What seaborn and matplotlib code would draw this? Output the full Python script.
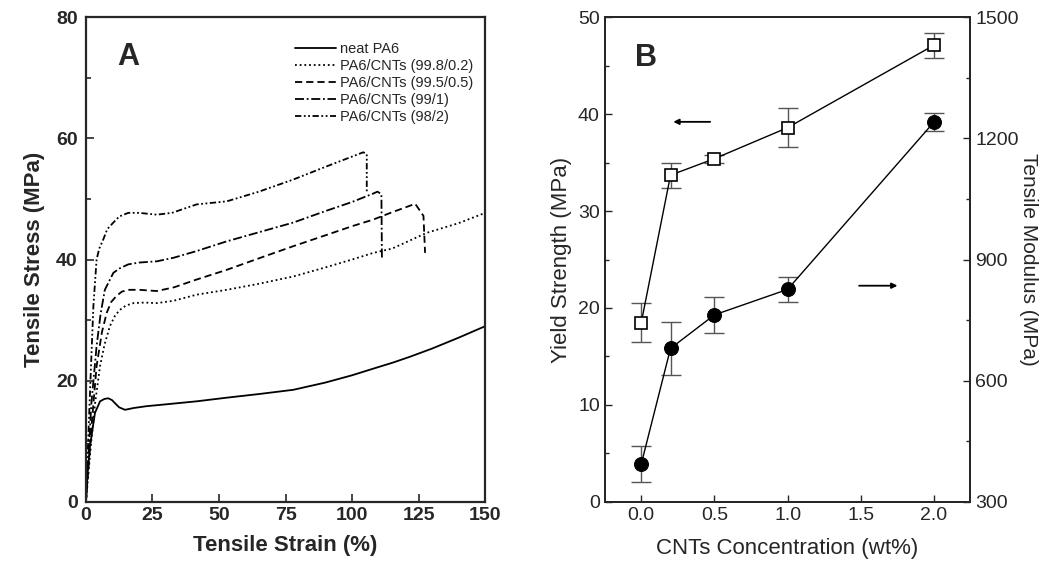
import numpy as np
import pandas as pd
import seaborn as sns
import matplotlib.pyplot as plt
from matplotlib.ticker import MultipleLocator

# Panel A: stress-strain curves
neat_x = [0, 0.5, 1.5, 3.4, 5.3, 7, 8.4, 9.8, 10.9, 12.5, 14.7, 18, 22.8, 30, 41.6, 52.9, 65, 77.9, 90, 100, 108, 115.4, 122, 130, 140, 150]
neat_y = [0, 4, 9.1, 14.7, 16.6, 17.0, 17.1, 16.8, 16.3, 15.6, 15.2, 15.5, 15.8, 16.1, 16.6, 17.2, 17.8, 18.5, 19.7, 20.9, 22.0, 23.0, 24.0, 25.3, 27.1, 29.0]

c02_x = [0, 1, 2, 3.5, 5.3, 7, 9, 11, 12.8, 15, 17.8, 22, 26.6, 33, 41.6, 52.9, 65, 77.9, 90, 100, 108, 115, 128, 140, 150]
c02_y = [0, 5, 10, 16.5, 22.4, 26, 29, 30.8, 31.7, 32.4, 32.8, 32.9, 32.8, 33.2, 34.2, 35.0, 36.0, 37.2, 38.7, 40.0, 41.1, 41.8, 44.4, 46.0, 47.7]

c05_x = [0, 1, 2, 4, 6, 7.8, 9.5, 11.5, 13.5, 15.9, 20, 26.6, 33, 41.6, 52.9, 65, 77.9, 90, 100, 108, 115, 120, 123.7, 126.8, 127.4]
c05_y = [0, 6, 12, 22.4, 28, 31.2, 33, 34, 34.7, 35, 35, 34.8, 35.4, 36.7, 38.3, 40.2, 42.2, 44.0, 45.5, 46.6, 47.8, 48.6, 49.2, 47.2, 41.1]

c1_x = [0, 1, 2, 4, 5.5, 7.1, 10.3, 12.5, 15.9, 20, 26.6, 33, 41.6, 52.9, 65, 77.9, 90, 100, 108, 109.5, 111, 111.2]
c1_y = [0, 8, 16, 25.7, 31, 35, 37.8, 38.5, 39.2, 39.5, 39.7, 40.3, 41.4, 43.0, 44.5, 46.1, 48.0, 49.5, 50.9, 51.2, 50.8, 40.0]

c2_x = [0, 1, 2.1, 2.8, 4, 5, 6.5, 8, 10.3, 12.5, 15.9, 20, 26.6, 32.3, 41.6, 52.9, 65, 77.9, 90, 104.2, 105.5, 105.5]
c2_y = [0, 12, 24.6, 32.3, 40, 41.8, 43.3, 45, 46.1, 47.1, 47.7, 47.7, 47.4, 47.7, 49.1, 49.6, 51.2, 53.2, 55.3, 57.7, 57.4, 51.0]

curve_labels = ["neat PA6", "PA6/CNTs (99.8/0.2)", "PA6/CNTs (99.5/0.5)",
                "PA6/CNTs (99/1)", "PA6/CNTs (98/2)"]

# Panel B: yield strength and modulus vs CNT content
conc = [0.0, 0.2, 0.5, 1.0, 2.0]
yield_strength = [18.5, 33.7, 35.4, 38.6, 47.1]
yield_err = [2.0, 1.3, 0.4, 2.0, 1.3]
modulus = [394, 680, 763, 826, 1240]
modulus_err = [45, 65, 45, 30, 22]

sns.set_theme(style="ticks")
plt.rcParams['font.family'] = ['Liberation Sans', 'DejaVu Sans']
plt.rcParams['xtick.direction'] = 'in'
plt.rcParams['ytick.direction'] = 'in'

fig = plt.figure(figsize=(10.48, 5.71), dpi=100)
axA = fig.add_axes([0.082, 0.121, 0.381, 0.849])
axB = fig.add_axes([0.577, 0.121, 0.349, 0.849])

styles = ['-', (0, (1, 1.6)), (0, (4, 2.2)), (0, (5, 1.5, 1, 1.5)), (0, (3.5, 1.4, 1, 1.4, 1, 1.4))]
curves = [(neat_x, neat_y), (c02_x, c02_y), (c05_x, c05_y), (c1_x, c1_y), (c2_x, c2_y)]
for (xs, ys), lab, ls in zip(curves, curve_labels, styles):
    sns.lineplot(x=xs, y=ys, sort=False, estimator=None, ax=axA, color='black',
                 linewidth=1.3, linestyle=ls, label=lab)

axA.set_xlim(0, 150)
axA.set_ylim(0, 80)
axA.xaxis.set_major_locator(MultipleLocator(25))
axA.yaxis.set_major_locator(MultipleLocator(20))
axA.yaxis.set_minor_locator(MultipleLocator(10))
axA.tick_params(axis='both', which='major', length=6, width=1.2, labelsize=14)
axA.tick_params(axis='y', which='minor', length=3.5, width=1.2)
axA.tick_params(axis='y', pad=6)
for lab in axA.get_xticklabels() + axA.get_yticklabels():
    lab.set_fontweight('bold')
axA.set_xlabel("Tensile Strain (%)", fontsize=16, fontweight='bold', labelpad=8)
axA.set_ylabel("Tensile Stress (MPa)", fontsize=16, fontweight='bold', labelpad=8)
for sp in axA.spines.values():
    sp.set_linewidth(1.6)
axA.text(16, 73.5, "A", fontsize=22, fontweight='bold', ha='center', va='center')
leg = axA.legend(loc='upper left', bbox_to_anchor=(0.49, 0.975), frameon=False,
                 fontsize=10.5, handlelength=2.8, handletextpad=0.3, labelspacing=0.2)

# Panel B
sns.lineplot(x=conc, y=yield_strength, ax=axB, color='black', linewidth=1.0,
             marker='s', markersize=9, markerfacecolor='white', markeredgecolor='black',
             markeredgewidth=1.2)
axB.errorbar(conc, yield_strength, yerr=yield_err, fmt='none', ecolor='#555555',
             elinewidth=1.0, capsize=7, capthick=1.0, zorder=1)
axB2 = axB.twinx()
sns.lineplot(x=conc, y=modulus, ax=axB2, color='black', linewidth=1.0,
             marker='o', markersize=10, markerfacecolor='black', markeredgecolor='black')
axB2.errorbar(conc, modulus, yerr=modulus_err, fmt='none', ecolor='#555555',
              elinewidth=1.0, capsize=7, capthick=1.0, zorder=1)

axB.set_xlim(-0.25, 2.25)
axB.set_ylim(0, 50)
axB2.set_ylim(300, 1500)
axB.xaxis.set_major_locator(MultipleLocator(0.5))
axB.yaxis.set_major_locator(MultipleLocator(10))
axB.yaxis.set_minor_locator(MultipleLocator(5))
axB2.yaxis.set_major_locator(MultipleLocator(300))
axB2.yaxis.set_minor_locator(MultipleLocator(150))
axB.xaxis.set_major_formatter(plt.FormatStrFormatter('%.1f'))
axB.tick_params(axis='both', which='major', length=5, width=1.0, labelsize=14)
axB.tick_params(axis='y', which='minor', length=3, width=1.0)
axB2.tick_params(axis='y', which='major', length=5, width=1.0, labelsize=14)
axB2.tick_params(axis='y', which='minor', length=3, width=1.0)
axB.set_xlabel("CNTs Concentration (wt%)", fontsize=16, labelpad=10)
axB.set_ylabel("Yield Strength (MPa)", fontsize=16, labelpad=4)
axB2.set_ylabel("Tensile Modulus (MPa)", fontsize=15, rotation=270, va='center', ha='center')
axB2.yaxis.set_label_coords(1.16, 0.5)
for a in (axB, axB2):
    for sp in a.spines.values():
        sp.set_linewidth(1.4)
axB.text(0.03, 45.8, "B", fontsize=22, fontweight='bold', ha='center', va='center')
axB.annotate("", xy=(0.2, 39.2), xytext=(0.49, 39.2),
             arrowprops=dict(arrowstyle='-|>', color='black', lw=1.3, mutation_scale=8))
axB.annotate("", xy=(1.77, 22.3), xytext=(1.47, 22.3),
             arrowprops=dict(arrowstyle='-|>', color='black', lw=1.3, mutation_scale=8))

plt.savefig("out.png", dpi=100)
plt.close()
